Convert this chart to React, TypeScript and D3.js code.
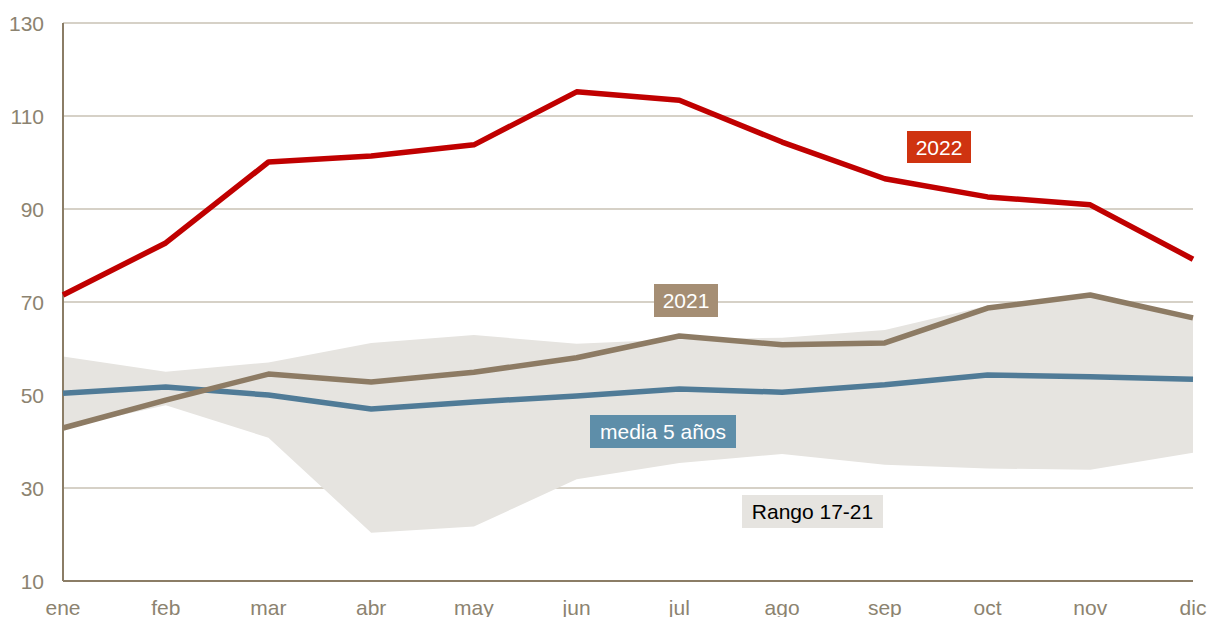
import React, { useEffect, useRef } from "react";
import * as d3 from "d3";

const months = ["ene", "feb", "mar", "abr", "may", "jun", "jul", "ago", "sep", "oct", "nov", "dic"];
const yTicks = [10, 30, 50, 70, 90, 110, 130];

const serie2022 = [71.5, 82.7, 100.1, 101.4, 103.8, 115.2, 113.4, 104.4, 96.5, 92.6, 90.9, 79.2];
const serie2021 = [42.9, 48.9, 54.5, 52.8, 54.9, 58.0, 62.7, 60.8, 61.2, 68.7, 71.5, 66.6];
const media5 = [50.4, 51.7, 50.0, 47.0, 48.5, 49.8, 51.3, 50.6, 52.2, 54.3, 53.9, 53.4];
const rangoMax = [58.3, 55.0, 57.0, 61.2, 62.9, 61.0, 62.0, 62.3, 64.0, 69.2, 71.6, 66.8];
const rangoMin = [42.9, 47.8, 40.8, 20.4, 21.7, 31.9, 35.4, 37.3, 35.0, 34.2, 33.9, 37.6];

const W = 1208;
const H = 617;
const margin = { top: 23, right: 15, bottom: 36, left: 63 };

export default function App() {
    const ref = useRef<SVGGElement>(null);

    useEffect(() => {
        const g = d3.select(ref.current);
        g.selectAll("*").remove();

        const width = W - margin.left - margin.right;
        const height = H - margin.top - margin.bottom;

        const x = d3.scalePoint<string>().domain(months).range([0, width]);
        const y = d3.scaleLinear().domain([10, 130]).range([height, 0]);

        const font = "'Liberation Sans', Arial, sans-serif";
        const tickColor = "#8c8370";
        const axisColor = "#8b7d66";

        // gridlines
        g.append("g")
            .selectAll("line")
            .data(yTicks.filter(t => t > 10))
            .join("line")
            .attr("x1", 0)
            .attr("x2", width)
            .attr("y1", d => y(d))
            .attr("y2", d => y(d))
            .attr("stroke", "#c9c2b4")
            .attr("stroke-width", 1.5);

        // band 17-21
        const area = d3.area<number>()
            .x((d, i) => x(months[i])!)
            .y0((d, i) => y(rangoMin[i]))
            .y1(d => y(d));
        g.append("path")
            .datum(rangoMax)
            .attr("d", area)
            .attr("fill", "#e6e4e0");

        // axes lines
        g.append("line")
            .attr("x1", 0).attr("x2", 0)
            .attr("y1", 0).attr("y2", height)
            .attr("stroke", axisColor).attr("stroke-width", 2);
        g.append("line")
            .attr("x1", 0).attr("x2", width)
            .attr("y1", height).attr("y2", height)
            .attr("stroke", axisColor).attr("stroke-width", 2);

        const line = d3.line<number>()
            .x((d, i) => x(months[i])!)
            .y(d => y(d));

        const series = [
            { data: media5, color: "#507b97" },
            { data: serie2021, color: "#8d7b64" },
            { data: serie2022, color: "#c00000" },
        ];
        series.forEach(s => {
            g.append("path")
                .datum(s.data)
                .attr("d", line)
                .attr("fill", "none")
                .attr("stroke", s.color)
                .attr("stroke-width", 5.5)
                .attr("stroke-linejoin", "round");
        });

        // y tick labels
        g.append("g")
            .selectAll("text")
            .data(yTicks)
            .join("text")
            .text(d => d)
            .attr("x", -19)
            .attr("y", d => y(d) + 7.5)
            .attr("text-anchor", "end")
            .attr("font-family", font)
            .attr("font-size", 21)
            .attr("fill", tickColor);

        // x tick labels
        g.append("g")
            .selectAll("text")
            .data(months)
            .join("text")
            .text(d => d)
            .attr("x", d => x(d)!)
            .attr("y", height + 34)
            .attr("text-anchor", "middle")
            .attr("font-family", font)
            .attr("font-size", 21)
            .attr("fill", tickColor);

        // labels (absolute page coords)
        const labels = [
            { text: "2022", x: 907, y: 131, w: 64, h: 32, bg: "#cf3310", fg: "#fff" },
            { text: "2021", x: 654, y: 284, w: 64, h: 33, bg: "#a58e74", fg: "#fff" },
            { text: "media 5 años", x: 590, y: 415, w: 146, h: 33, bg: "#5e8ea9", fg: "#fff" },
            { text: "Rango 17-21", x: 742, y: 495, w: 141, h: 33, bg: "#e6e4e0", fg: "#000" },
        ];
        const lg = g.append("g").attr("transform", `translate(${-margin.left},${-margin.top})`);
        labels.forEach(l => {
            lg.append("rect")
                .attr("x", l.x).attr("y", l.y)
                .attr("width", l.w).attr("height", l.h)
                .attr("fill", l.bg);
            lg.append("text")
                .text(l.text)
                .attr("x", l.x + l.w / 2)
                .attr("y", l.y + l.h / 2 + 7.5)
                .attr("text-anchor", "middle")
                .attr("font-family", font)
                .attr("font-size", 21)
                .attr("fill", l.fg);
        });
    }, []);

    return (
        <svg width={W} height={H} style={{ position: "absolute", left: 0, top: 0, background: "#fff" }}>
            <g ref={ref} transform={`translate(${margin.left}, ${margin.top})`} />
        </svg>
    );
}
